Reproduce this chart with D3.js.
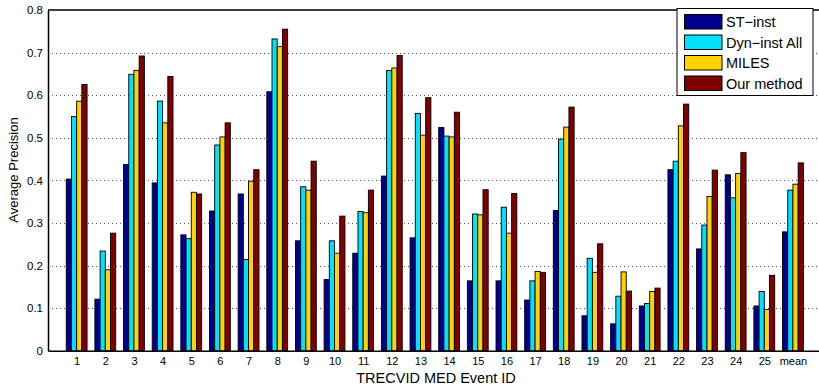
<!DOCTYPE html>
<html>
<head>
<meta charset="utf-8">
<script src="https://cdn.jsdelivr.net/npm/d3@7"></script>
<style>
  body { margin: 0; background: #fff; }
  svg { display: block; font-family: "Liberation Sans", Arial, sans-serif; }
</style>
</head>
<body>
<svg id="chart" width="819" height="389"></svg>
<script>
// event ids on the x axis
const events = ["1","2","3","4","5","6","7","8","9","10","11","12","13","14","15","16","17","18","19","20","21","22","23","24","25","mean"];
const seriesNames = ["ST\u2212inst", "Dyn\u2212inst All", "MILES", "Our method"];
const seriesColors = ["#00008c", "#00e0ff", "#ffd200", "#800000"];

const stInst  = [0.403,0.121,0.437,0.394,0.272,0.328,0.368,0.608,0.258,0.167,0.229,0.410,0.265,0.524,0.164,0.164,0.119,0.329,0.082,0.063,0.105,0.425,0.239,0.413,0.105,0.279];
const dynInst = [0.550,0.234,0.649,0.586,0.263,0.483,0.214,0.732,0.385,0.258,0.327,0.658,0.557,0.504,0.321,0.337,0.164,0.497,0.217,0.128,0.111,0.445,0.295,0.359,0.139,0.377];
const miles   = [0.586,0.190,0.658,0.535,0.372,0.502,0.398,0.714,0.377,0.229,0.324,0.664,0.506,0.502,0.319,0.276,0.186,0.525,0.184,0.185,0.139,0.528,0.362,0.416,0.097,0.391];
const ours    = [0.625,0.276,0.692,0.644,0.368,0.535,0.425,0.755,0.445,0.316,0.377,0.693,0.594,0.560,0.378,0.369,0.184,0.572,0.251,0.140,0.147,0.579,0.424,0.465,0.177,0.441];

const yTicks = [0, 0.1, 0.2, 0.3, 0.4, 0.5, 0.6, 0.7, 0.8];

const allSeries = [stInst, dynInst, miles, ours];

let svg = d3.select("#chart");

// matlab style: xlim [0, 27], axes run past the right edge of the picture
let x = d3.scaleLinear().domain([0, 27]).range([48, 821.6]);
let y = d3.scaleLinear().domain([0, 0.8]).range([350.7, 10]);

let step = x(1) - x(0);
let groupW = step * 0.727;
let barW = groupW / 4;

// dotted grid
svg.append("g").selectAll("line")
    .data(yTicks.filter(t => t > 0 && t < 0.8))
    .enter().append("line")
    .attr("x1", x(0)).attr("x2", x(27))
    .attr("y1", d => Math.round(y(d)) + 0.5)
    .attr("y2", d => Math.round(y(d)) + 0.5)
    .attr("stroke", "#555")
    .attr("stroke-width", 1)
    .attr("stroke-dasharray", "1,3");

// bars
let groups = svg.append("g").selectAll("g")
    .data(events)
    .enter().append("g")
    .attr("transform", (d, i) => "translate(" + (x(i + 1) - groupW / 2) + ",0)");

groups.selectAll("rect")
    .data((d, i) => allSeries.map((s, k) => ({k: k, v: s[i]})))
    .enter().append("rect")
    .attr("x", d => d.k * barW)
    .attr("width", barW)
    .attr("y", d => y(d.v))
    .attr("height", d => y(0) - y(d.v))
    .attr("fill", d => seriesColors[d.k])
    .attr("stroke", "#000")
    .attr("stroke-width", 0.9);

// axes box
let yAxis = d3.axisLeft(y).tickValues(yTicks).tickSize(0).tickPadding(5)
    .tickFormat(d => d === 0 ? "0" : d3.format(".1f")(d));
let gy = svg.append("g").attr("transform", "translate(" + x(0) + ",0)").call(yAxis);
gy.select(".domain").attr("stroke", "#000").attr("stroke-width", 1.5);
gy.selectAll("text").attr("font-size", 11.5).attr("fill", "#000");

let xAxis = d3.axisBottom(x).tickValues(d3.range(1, 27)).tickSize(0).tickPadding(7)
    .tickFormat(d => events[d - 1]);
let gx = svg.append("g").attr("transform", "translate(0," + y(0) + ")").call(xAxis);
gx.select(".domain").attr("stroke", "#000").attr("stroke-width", 1.5);
gx.selectAll("text").attr("font-size", 11).attr("fill", "#000");

svg.append("line")
    .attr("x1", x(0)).attr("x2", x(27))
    .attr("y1", y(0.8)).attr("y2", y(0.8))
    .attr("stroke", "#000").attr("stroke-width", 1.5);

// axis labels
svg.append("text")
    .attr("transform", "translate(18,170) rotate(-90)")
    .attr("text-anchor", "middle")
    .attr("font-size", 13)
    .text("Average Precision");

svg.append("text")
    .attr("x", 436).attr("y", 383)
    .attr("text-anchor", "middle")
    .attr("font-size", 14.5)
    .text("TRECVID MED Event ID");

// legend
let leg = svg.append("g").attr("transform", "translate(677,8.5)");
leg.append("rect")
    .attr("width", 136).attr("height", 87)
    .attr("fill", "#fff").attr("stroke", "#000").attr("stroke-width", 1);

let items = leg.selectAll(".item")
    .data(seriesNames)
    .enter().append("g")
    .attr("class", "item")
    .attr("transform", (d, i) => "translate(7.5," + (6 + i * 20.5) + ")");

items.append("rect")
    .attr("width", 37.5).attr("height", 14.5)
    .attr("fill", (d, i) => seriesColors[i])
    .attr("stroke", "#000").attr("stroke-width", 1);

items.append("text")
    .attr("x", 41.5).attr("y", 12.5)
    .attr("font-size", 14.5)
    .text(d => d);
</script>
</body>
</html>
